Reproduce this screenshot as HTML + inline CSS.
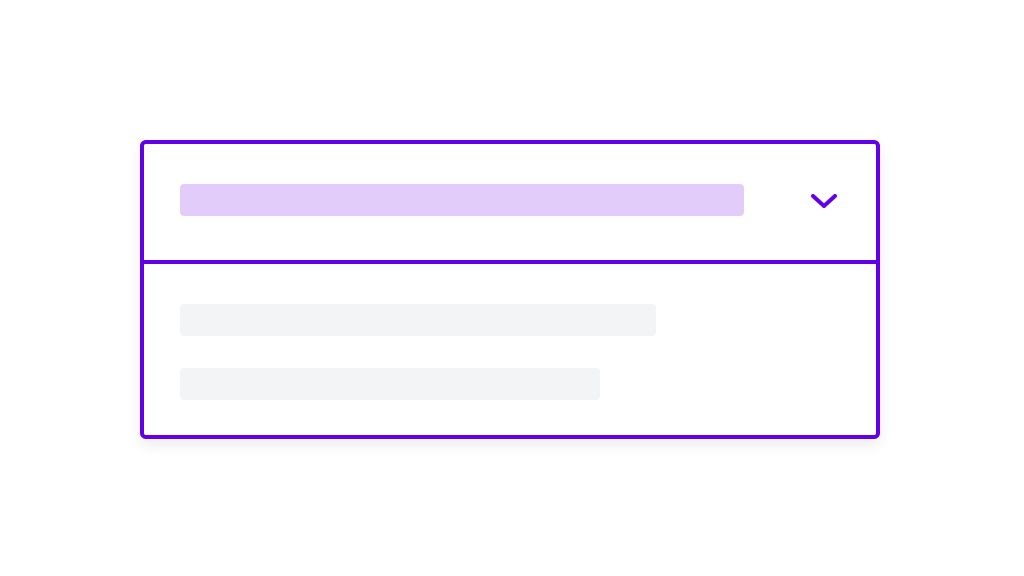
<!DOCTYPE html>
<html><head><meta charset="utf-8"><style>
html,body{margin:0;padding:0;background:#fff;width:1024px;height:576px;overflow:hidden;font-family:"Liberation Sans",sans-serif}
.card{position:absolute;left:140px;top:140px;width:732px;height:291px;border:4px solid #6200ea;border-radius:6px;box-shadow:0 6px 14px rgba(0,0,0,0.08);background:#fff}
.div{position:absolute;left:0;right:0;top:116px;height:4px;background:#6200ea}
.bar{position:absolute;border-radius:4px}
</style></head><body>
<div class="card">
  <div class="bar" style="left:36px;top:40px;width:564px;height:32px;background:#e2ccfa"></div>
  <svg style="position:absolute;left:665px;top:47px" width="30" height="22" viewBox="0 0 30 22"><polyline points="4,5 15,15 26,5" fill="none" stroke="#6200ea" stroke-width="4" stroke-linecap="round" stroke-linejoin="round"/></svg>
  <div class="div"></div>
  <div class="bar" style="left:36px;top:160px;width:476px;height:32px;background:#f3f4f6"></div>
  <div class="bar" style="left:36px;top:224px;width:420px;height:32px;background:#f3f4f6"></div>
</div>
</body></html>
